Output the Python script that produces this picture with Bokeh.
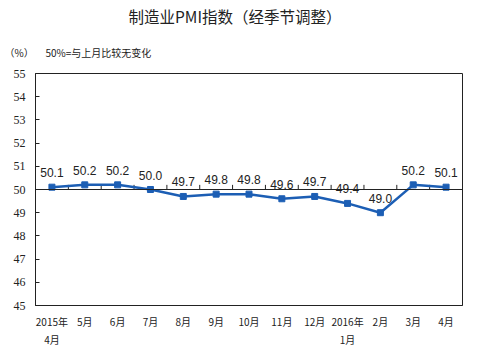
from bokeh.plotting import figure
from bokeh.models import Range1d, FixedTicker, Title, ColumnDataSource, Span
from bokeh.embed import file_html
from bokeh.resources import INLINE
from bokeh.core.properties import value

months = ["2015年\n4月", "5月", "6月", "7月", "8月", "9月", "10月", "11月", "12月", "2016年\n1月", "2月", "3月", "4月"]
pmi = [50.1, 50.2, 50.2, 50.0, 49.7, 49.8, 49.8, 49.6, 49.7, 49.4, 49.0, 50.2, 50.1]
y_ticks = [45, 46, 47, 48, 49, 50, 51, 52, 53, 54, 55]
title_text = "制造业PMI指数（经季节调整）"
unit_text = "（%）"
note_text = "50%=与上月比较无变化"

n = len(months)
xs = [i + 0.5 for i in range(n)]

p = figure(width=491, height=357, output_backend="svg", toolbar_location=None,
           x_range=Range1d(0, n), y_range=Range1d(45, 55),
           min_border_left=35, min_border_right=29, min_border_top=72, min_border_bottom=52)
p.background_fill_color = "white"
p.border_fill_color = "white"
p.outline_line_color = "#222222"
p.outline_line_width = 1
p.grid.visible = False

p.title.text = title_text
p.title.align = "left"
p.title.offset = 93
p.title.standoff = 4
p.title.text_font = "Noto Sans CJK SC"
p.title.text_font_size = "15.5px"
p.title.text_font_style = "normal"
p.title.text_color = "#222222"

sub = Title(text=unit_text + "\u3000\u00a0\u00a0\u00a0" + note_text, align="left", offset=-31,
            text_font="Noto Sans CJK SC", text_font_size="10px", text_font_style="normal",
            text_color="#222222", standoff=28)
p.add_layout(sub, "above")

# y axis
p.yaxis.ticker = FixedTicker(ticks=y_ticks)
p.yaxis.major_tick_in = 4
p.yaxis.major_tick_out = 0
p.yaxis.minor_tick_line_color = None
p.yaxis.axis_line_color = "#222222"
p.yaxis.major_tick_line_color = "#222222"
p.yaxis.major_label_text_font = "Liberation Serif"
p.yaxis.major_label_text_font_size = "12px"
p.yaxis.major_label_text_color = "#222222"
p.yaxis.major_label_standoff = 10

# x axis
p.xaxis.ticker = FixedTicker(ticks=xs)
p.xaxis.major_label_overrides = {x: m for x, m in zip(xs, months)}
p.xaxis.major_tick_line_color = None
p.xaxis.minor_tick_line_color = None
p.xaxis.axis_line_color = "#222222"
p.xaxis.major_label_text_font = "Noto Sans CJK SC"
p.xaxis.major_label_text_font_size = "10px"
p.xaxis.major_label_text_color = "#222222"
p.xaxis.major_label_text_line_height = 1.2
p.xaxis.major_label_standoff = 2

# 50 reference line with ticks at category boundaries
p.add_layout(Span(location=50, dimension="width", line_color="#222222", line_width=1))
bounds = list(range(1, n))
p.segment(x0=bounds, x1=bounds, y0=[50] * len(bounds), y1=[50.2] * len(bounds),
          line_color="#222222", line_width=1)

src = ColumnDataSource(dict(x=xs, y=pmi, lab=[f"{v:.1f}" for v in pmi]))
p.line("x", "y", source=src, line_color="#1C5EB4", line_width=2.5)
p.scatter("x", "y", source=src, marker="square", size=6, fill_color="#1C5EB4", line_color="#1C5EB4")
p.text("x", "y", text="lab", source=src, text_align="center", text_baseline="bottom",
       y_offset=-10, text_font=value("Liberation Sans"), text_font_size="12px", text_color="#222222")

open("out.html", "w").write(file_html(p, INLINE))
